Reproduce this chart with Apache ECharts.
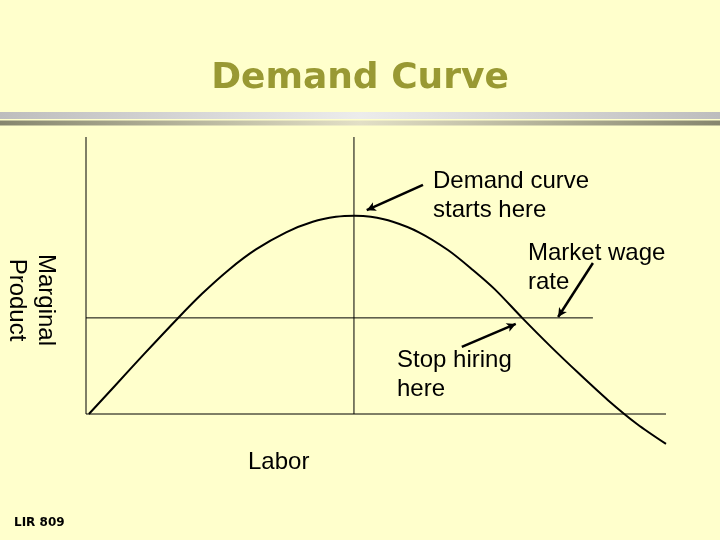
<!DOCTYPE html>
<html><head><meta charset="utf-8">
<script src="https://cdn.jsdelivr.net/npm/echarts@6/dist/echarts.min.js"></script>
<style>html,body{margin:0;padding:0;background:#FFFFCC;}#c{width:720px;height:540px;}</style>
</head><body><div id="c"></div>
<script>
// Demand (marginal product) curve (x: labor 0..100, y: marginal product)
const curveX = [0.5, 5, 10, 15.8, 20, 24.7, 29.3, 34.5, 39.1, 43.1, 46.3, 49.1, 52.9, 57.4, 62.4, 66.7, 70.5, 75.2, 80, 85, 90, 95, 100];
const curveY = [0, 10.2, 21.6, 34.5, 43.4, 52.2, 59.4, 65.6, 69.4, 71.2, 71.6, 71.2, 69.4, 65.6, 59.2, 52.0, 45.0, 34.7, 24.6, 14.6, 5.0, -3.6, -10.8];
const axisTop = 100;
const axisRight = 100;
const peakX = 46.2;
const wageRate = 34.7;
const wageEnd = 87.4;
const arrowFrom = [[58.1, 82.7], [87.4, 54.5], [64.8, 24.2]];
const arrowTo = [[48.4, 73.6], [81.4, 35.0], [74.1, 32.5]];
const titleText = 'Demand Curve';
const yLabel = 'Marginal\nProduct';
const xLabel = 'Labor';
const notes = ['Demand curve\nstarts here', 'Market wage\nrate', 'Stop hiring\nhere'];
const footer = 'LIR 809';

const chart = echarts.init(document.getElementById('c'), null, {renderer: 'canvas'});
const black = {color: '#000', width: 1};
const noteStyle = {fontFamily: 'Liberation Sans', fontSize: 24, fill: '#000', lineHeight: 29};
const option = {
  backgroundColor: '#FFFFCC',
  animation: false,
  grid: {left: 86, right: 54, top: 137, bottom: 70.6},
  xAxis: {type: 'value', min: 0, max: 100, show: false},
  yAxis: {type: 'value', min: -20, max: 100, show: false},
  graphic: [
    {type: 'rect', shape: {x: 0, y: 112, width: 720, height: 7}, style: {fill: new echarts.graphic.LinearGradient(0, 0, 1, 0, [{offset: 0, color: '#bdbdbd'}, {offset: 0.5, color: '#ececec'}, {offset: 1, color: '#bdbdbd'}])}},
    {type: 'rect', shape: {x: 0, y: 120.5, width: 720, height: 5}, style: {fill: new echarts.graphic.LinearGradient(0, 0, 1, 0, [{offset: 0, color: '#86866e'}, {offset: 0.5, color: '#e2dfc6'}, {offset: 1, color: '#86866e'}])}},
    {type: 'text', x: 360, y: 79, style: {text: titleText, textAlign: 'center', textVerticalAlign: 'middle', fontFamily: 'DejaVu Sans', fontWeight: 'bold', fontSize: 36, fill: '#999933'}},
    {type: 'text', x: 31, y: 300, rotation: -Math.PI / 2, style: Object.assign({}, noteStyle, {text: yLabel, textAlign: 'center', textVerticalAlign: 'middle'})},
    {type: 'text', x: 248, y: 462, style: Object.assign({}, noteStyle, {text: xLabel, textVerticalAlign: 'middle'})},
    {type: 'text', x: 433, y: 166.5, style: Object.assign({}, noteStyle, {text: notes[0]})},
    {type: 'text', x: 528, y: 238.5, style: Object.assign({}, noteStyle, {text: notes[1]})},
    {type: 'text', x: 397, y: 345.5, style: Object.assign({}, noteStyle, {text: notes[2]})},
    {type: 'text', x: 14, y: 523, style: {text: footer, textVerticalAlign: 'middle', fontFamily: 'DejaVu Sans', fontWeight: 'bold', fontSize: 12, fill: '#000'}}
  ],
  series: [
    {type: 'line', name: 'y axis', data: [[0, 0], [0, axisTop]], symbol: 'none', lineStyle: black, silent: true},
    {type: 'line', name: 'x axis', data: [[0, 0], [axisRight, 0]], symbol: 'none', lineStyle: black, silent: true},
    {type: 'line', name: 'peak', data: [[peakX, 0], [peakX, axisTop]], symbol: 'none', lineStyle: black, silent: true},
    {type: 'line', name: 'wage', data: [[0, wageRate], [wageEnd, wageRate]], symbol: 'none', lineStyle: black, silent: true},
    {type: 'line', name: 'demand', data: curveX.map((x, i) => [x, curveY[i]]), smooth: 0.3, symbol: 'none', lineStyle: {color: '#000', width: 2}, silent: true,
      markLine: {silent: true, symbol: ['none', 'arrow'], symbolSize: [7, 9], label: {show: false}, lineStyle: {color: '#000', width: 2.5, type: 'solid'},
        data: arrowFrom.map((f, i) => [{coord: f}, {coord: arrowTo[i]}])}}
  ]
};
chart.setOption(option);
</script></body></html>
